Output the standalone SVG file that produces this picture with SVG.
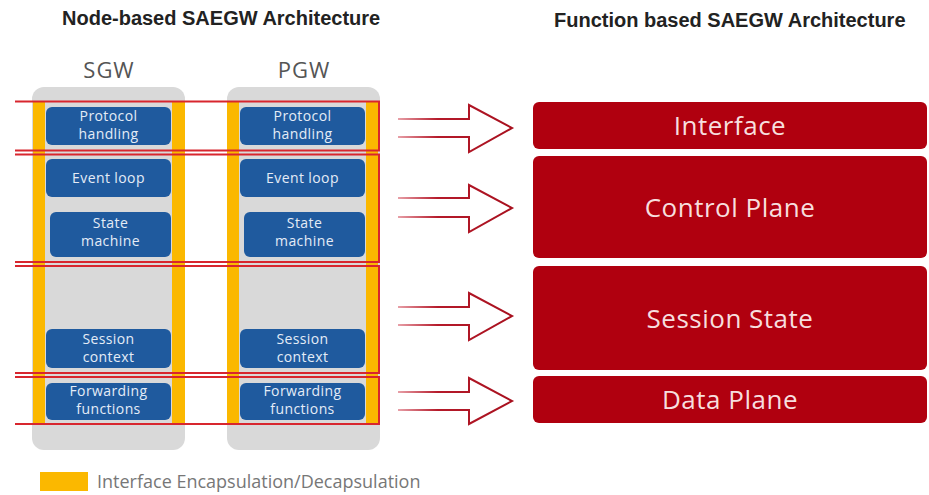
<svg xmlns="http://www.w3.org/2000/svg" width="929" height="495" viewBox="0 0 929 495">
  <defs>
    <linearGradient id="arrowGrad" x1="0" y1="0" x2="1" y2="0">
      <stop offset="0" stop-color="#e8a0a8"/>
      <stop offset="0.35" stop-color="#b51a2a"/>
      <stop offset="1" stop-color="#a8101e"/>
    </linearGradient>
    <style>
      .title { font-family: "Liberation Sans", Arial, sans-serif; font-weight: bold; font-size: 20px; fill: #222; }
      .gw { font-family: "Open Sans", "Liberation Sans", sans-serif; font-size: 22px; letter-spacing: 1px; fill: #555; text-anchor: middle; }
      .gray { fill: #d9d9d9; }
      .yel { fill: #fbb800; }
      .blue { fill: #1f5a9e; }
      .bt { font-family: "Open Sans", "Liberation Sans", sans-serif; font-size: 14px; letter-spacing: 0.4px; fill: #e4ecf7; text-anchor: middle; }
      .band { fill: none; stroke: #d8262e; stroke-width: 2; }
      .fn { fill: #b0000f; }
      .ft { font-family: "Open Sans", "Liberation Sans", sans-serif; font-size: 26px; letter-spacing: 0.5px; fill: #f7dede; text-anchor: middle; }
      .arrow { fill: none; stroke: url(#arrowGrad); stroke-width: 2; stroke-linejoin: miter; }
      .legend { font-family: "Open Sans", "Liberation Sans", sans-serif; font-size: 18px; fill: #777; }
    </style>
  </defs>
  <rect width="929" height="495" fill="#ffffff"/>

  <text class="title" x="62" y="25">Node-based SAEGW Architecture</text>
  <text class="title" x="554" y="27">Function based SAEGW Architecture</text>

  <g id="sgw">
    <rect class="gray" x="32" y="87" width="153" height="363" rx="12"/>
    <rect class="yel" x="33" y="101" width="12" height="323"/>
    <rect class="yel" x="172" y="101" width="13" height="323"/>
    <text class="gw" x="109" y="78">SGW</text>
  </g>
  <g id="pgw">
    <rect class="gray" x="227" y="87" width="153" height="363" rx="12"/>
    <rect class="yel" x="227" y="101" width="12" height="323"/>
    <rect class="yel" x="366" y="101" width="12" height="323"/>
    <text class="gw" x="304" y="78">PGW</text>
  </g>

  <g id="sgw-protocol"><rect class="blue" x="46" y="107" width="125" height="38" rx="6"/><text class="bt" x="108.5" y="121">Protocol</text><text class="bt" x="108.5" y="139">handling</text></g>
  <g id="sgw-event"><rect class="blue" x="46" y="159" width="125" height="38" rx="6"/><text class="bt" x="108.5" y="183">Event loop</text></g>
  <g id="sgw-state"><rect class="blue" x="50" y="212" width="121" height="45" rx="6"/><text class="bt" x="110.5" y="228">State</text><text class="bt" x="110.5" y="246">machine</text></g>
  <g id="sgw-session"><rect class="blue" x="46" y="329" width="125" height="39" rx="6"/><text class="bt" x="108.5" y="344">Session</text><text class="bt" x="108.5" y="362">context</text></g>
  <g id="sgw-forwarding"><rect class="blue" x="46" y="383" width="125" height="37" rx="6"/><text class="bt" x="108.5" y="396">Forwarding</text><text class="bt" x="108.5" y="414">functions</text></g>

  <g id="pgw-protocol"><rect class="blue" x="240" y="107" width="125" height="38" rx="6"/><text class="bt" x="302.5" y="121">Protocol</text><text class="bt" x="302.5" y="139">handling</text></g>
  <g id="pgw-event"><rect class="blue" x="240" y="159" width="125" height="38" rx="6"/><text class="bt" x="302.5" y="183">Event loop</text></g>
  <g id="pgw-state"><rect class="blue" x="244" y="212" width="121" height="45" rx="6"/><text class="bt" x="304.5" y="228">State</text><text class="bt" x="304.5" y="246">machine</text></g>
  <g id="pgw-session"><rect class="blue" x="240" y="329" width="125" height="39" rx="6"/><text class="bt" x="302.5" y="344">Session</text><text class="bt" x="302.5" y="362">context</text></g>
  <g id="pgw-forwarding"><rect class="blue" x="240" y="383" width="125" height="37" rx="6"/><text class="bt" x="302.5" y="396">Forwarding</text><text class="bt" x="302.5" y="414">functions</text></g>

  <g id="bands">
    <path class="band" d="M15,101.5 H379 V150.5 H15"/>
    <path class="band" d="M15,154.5 H379 V262 H15"/>
    <path class="band" d="M15,266 H379 V373 H15"/>
    <path class="band" d="M15,377 H379 V424 H15"/>
  </g>

  <g id="interface"><rect class="fn" x="533" y="102" width="394" height="47" rx="6"/><text class="ft" x="730" y="135">Interface</text></g>
  <g id="control-plane"><rect class="fn" x="533" y="156" width="394" height="102" rx="6"/><text class="ft" x="730" y="217">Control Plane</text></g>
  <g id="session-state"><rect class="fn" x="533" y="266" width="394" height="104" rx="6"/><text class="ft" x="730" y="328">Session State</text></g>
  <g id="data-plane"><rect class="fn" x="533" y="376" width="394" height="47" rx="6"/><text class="ft" x="730" y="409">Data Plane</text></g>

  <g id="connectors">
    <path class="arrow" d="M398,119 H469 V105 L512,128 L469,152 V137 H398"/>
    <path class="arrow" d="M398,198 H469 V185 L512,208 L469,232 V217 H398"/>
    <path class="arrow" d="M398,307 H469 V293 L512,316 L469,340 V325 H398"/>
    <path class="arrow" d="M398,392 H469 V378 L512,401 L469,424 V410 H398"/>
  </g>

  <g id="legend">
    <rect class="yel" x="40" y="472" width="48" height="19"/>
    <text class="legend" x="97" y="488">Interface Encapsulation/Decapsulation</text>
  </g>
</svg>
